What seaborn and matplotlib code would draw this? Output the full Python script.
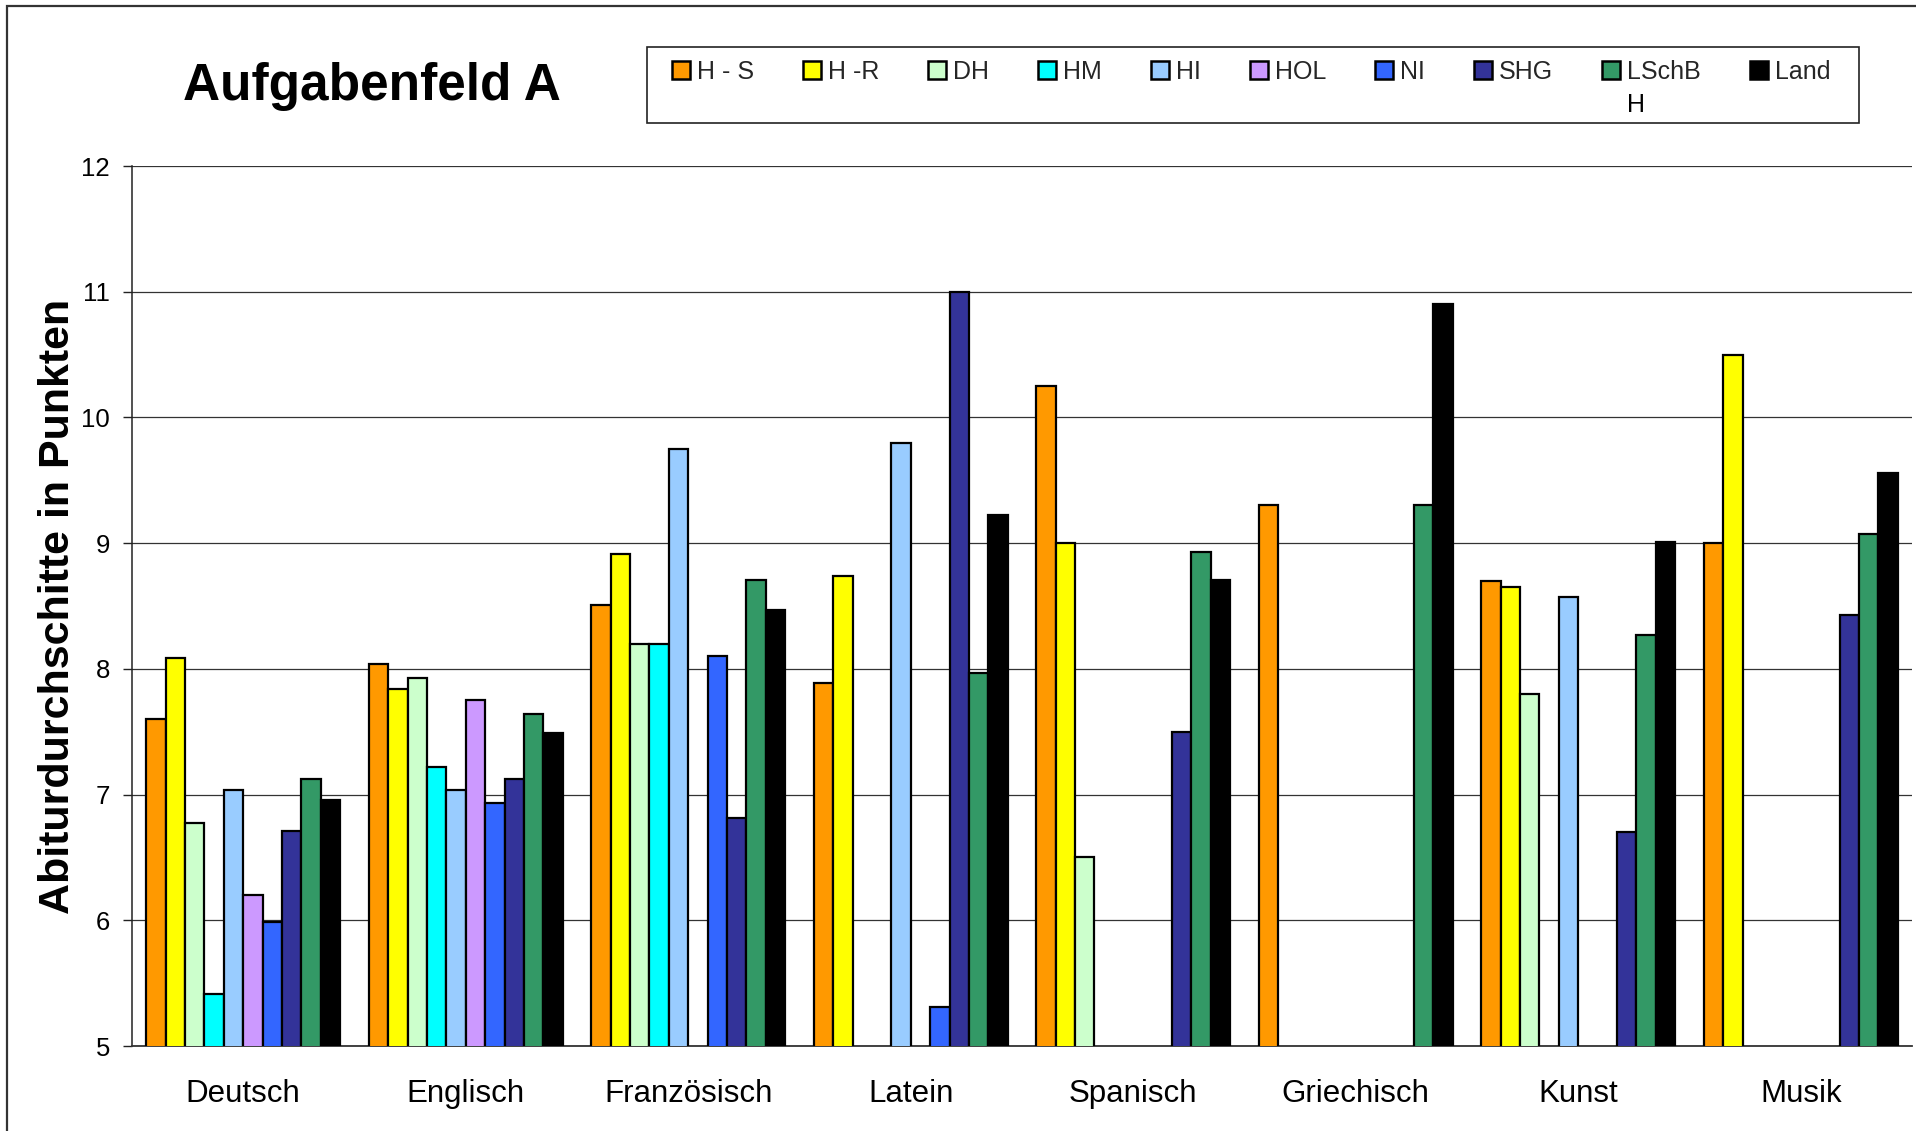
import numpy as np
import pandas as pd
import matplotlib
matplotlib.use("Agg")
import matplotlib.pyplot as plt
from matplotlib.patches import Patch, Rectangle
import seaborn as sns

# ---------------- data ----------------
faecher = ["Deutsch", "Englisch", "Französisch", "Latein", "Spanisch",
           "Griechisch", "Kunst", "Musik"]
gruppen = ["H - S", "H -R", "DH", "HM", "HI", "HOL", "NI", "SHG", "LSchBH", "Land"]
nan = np.nan
h_s    = [7.60, 8.04, 8.51, 7.89, 10.25, 9.30, 8.70, 9.00]
h_r    = [8.09, 7.84, 8.91, 8.74, 9.00, nan, 8.65, 10.50]
dh     = [6.77, 7.93, 8.20, nan, 6.50, nan, 7.80, nan]
hm     = [5.41, 7.22, 8.20, nan, nan, nan, nan, nan]
hi     = [7.04, 7.04, 9.75, 9.80, nan, nan, 8.57, nan]
hol    = [6.20, 7.75, nan, nan, nan, nan, nan, nan]
ni     = [5.99, 6.93, 8.10, 5.31, nan, nan, nan, nan]
shg    = [6.71, 7.12, 6.81, 11.00, 7.50, nan, 6.70, 8.43]
lschbh = [7.12, 7.64, 8.71, 7.97, 8.93, 9.30, 8.27, 9.07]
land   = [6.96, 7.49, 8.47, 9.22, 8.71, 10.90, 9.01, 9.56]
y_ticks = [5, 6, 7, 8, 9, 10, 11, 12]

farben = ["#FF9900", "#FFFF00", "#CCFFCC", "#00FFFF", "#99CCFF",
          "#CC99FF", "#3366FF", "#333399", "#339966", "#000000"]

serien = [h_s, h_r, dh, hm, hi, hol, ni, shg, lschbh, land]
rows = []
for g, vals in zip(gruppen, serien):
    for f, v in zip(faecher, vals):
        rows.append({"Fach": f, "Gruppe": g, "Wert": v})
df = pd.DataFrame(rows)

# ---------------- style ----------------
sns.set_theme(style="white")
plt.rcParams["font.family"] = ["Liberation Sans", "DejaVu Sans"]

W, H = 1916, 1131
fig = plt.figure(figsize=(W / 100, H / 100), dpi=100)
ax = fig.add_axes([132 / W, 1 - 1046 / H, (1912 - 132) / W, (1046 - 166) / H])

sns.barplot(data=df, x="Fach", y="Wert", hue="Gruppe", order=faecher,
            hue_order=gruppen, palette=dict(zip(gruppen, farben)),
            width=0.872, errorbar=None, edgecolor="black", linewidth=1.6,
            saturation=1, legend=False, ax=ax, zorder=3)

ax.set_ylim(5, 12)
ax.set_xlim(-0.5, len(faecher) - 0.5)
ax.set_yticks(y_ticks)
ax.set_yticklabels([str(t) for t in y_ticks], fontsize=18.5)
ax.yaxis.grid(True, color="#333333", linewidth=0.9, zorder=0)
ax.xaxis.grid(False)
ax.set_axisbelow(True)

ax.set_xticks(range(len(faecher)))
ax.set_xticklabels(faecher, fontsize=22.5)
ax.set_xticks(np.arange(-0.5, len(faecher), 1.0), minor=True)
ax.tick_params(axis="x", which="major", length=0, pad=24, colors="black")
ax.tick_params(axis="x", which="minor", length=7, width=1.0, color="#333333",
               direction="out")
ax.tick_params(axis="y", which="major", length=6.5, width=1.0, color="#222222",
               pad=9.4, direction="out", left=True, labelcolor="black")

for s in ["top", "right"]:
    ax.spines[s].set_visible(False)
ax.spines["left"].set_color("#222222")
ax.spines["left"].set_linewidth(1.1)
ax.spines["bottom"].set_color("#333333")
ax.spines["bottom"].set_linewidth(1.3)

ax.set_xlabel("")
ax.set_ylabel("Abiturdurchschitte in Punkten", fontsize=31, fontweight="bold",
              color="black")
ax.yaxis.set_label_coords(-0.0305, 0.5)

# title
fig.text(183 / W, 1 - 100 / H, "Aufgabenfeld A", fontsize=37, fontweight="bold",
         ha="left", va="baseline", color="black")

# legend
handles = [Patch(facecolor=c, edgecolor="black", linewidth=1.8) for c in farben]
labels = [g if g != "LSchBH" else "LSchB" for g in gruppen]
leg = fig.legend(handles, labels, loc="upper left",
                 bbox_to_anchor=(671.6 / W, 1 - 60 / H), ncol=10, frameon=False,
                 fontsize=18, handlelength=0.72, handleheight=0.72,
                 handletextpad=0.28, columnspacing=1.96, borderpad=0,
                 borderaxespad=0)
fig.add_artist(Rectangle((647 / W, 1 - 123 / H), (1859 - 647) / W, 76 / H,
                         transform=fig.transFigure, fill=False,
                         edgecolor="#222222", linewidth=1.2))

# outer chart frame (left and top edges visible)
fig.add_artist(Rectangle((7 / W, -0.05), 1.2, 1 - 6 / H + 0.05,
                         transform=fig.transFigure, fill=False,
                         edgecolor="#333333", linewidth=1.6))

fig.canvas.draw()
t = leg.get_texts()[8]
bb = t.get_window_extent()
fig.text(bb.x0 / W, (bb.y0 - 9) / H, "H", fontsize=18, ha="left", va="top",
         color="black")

fig.savefig("out.png", dpi=100)
